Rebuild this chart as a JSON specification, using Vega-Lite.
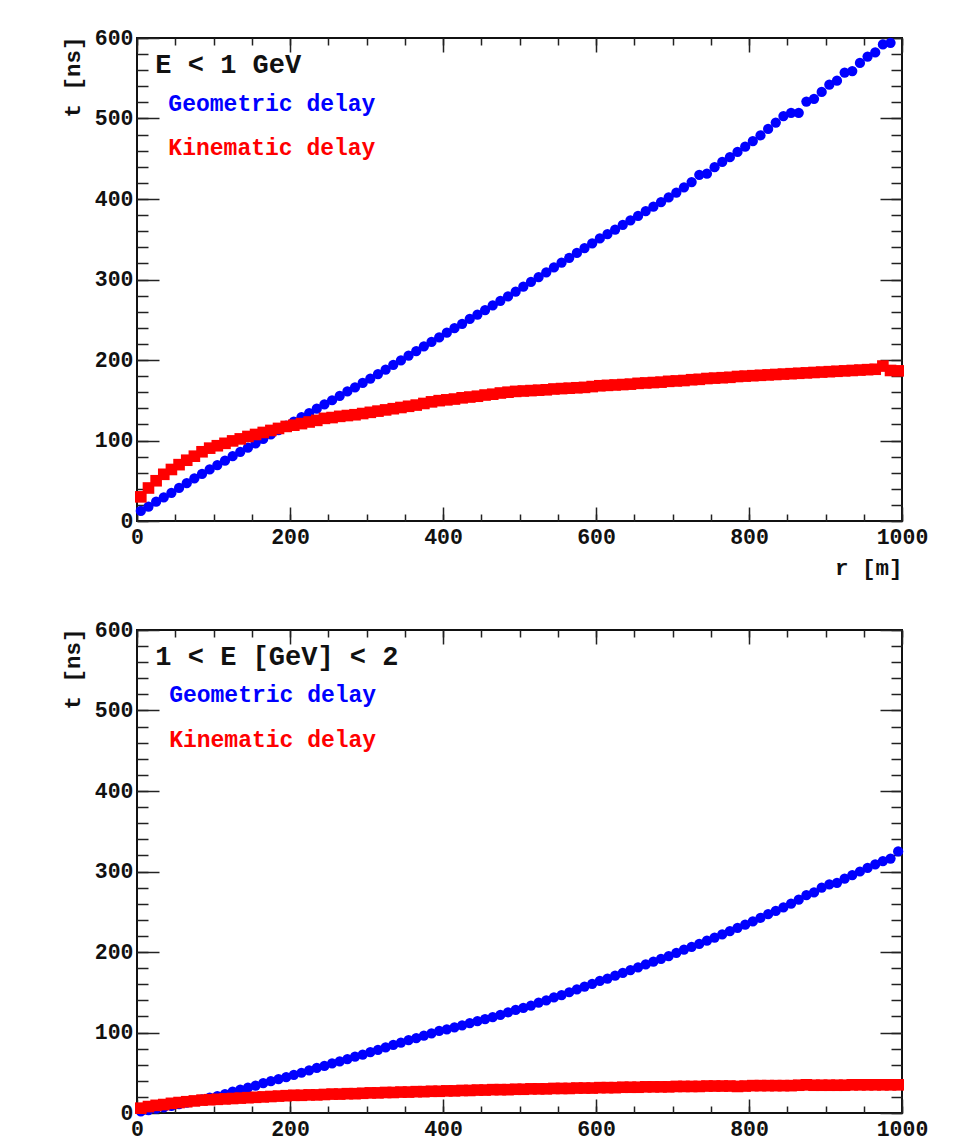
{
  "$schema": "https://vega.github.io/schema/vega-lite/v6.json",
  "background": "white",
  "padding": {"left": 60, "top": 26, "right": 10, "bottom": 5},
  "spacing": 109,
  "bounds": "flush",
  "config": {
    "view": {"stroke": "#111111", "strokeWidth": 2, "fill": "white"},
    "axis": {"domain": false, "grid": false, "labelFont": "Liberation Mono", "labelFontWeight": "bold", "labelFontSize": 21.5, "labelColor": "#111111", "titleFont": "Liberation Mono", "titleFontWeight": "bold", "titleFontSize": 22.5, "titleColor": "#111111", "tickColor": "#222222", "tickWidth": 1.5, "labelFlush": false, "labelOverlap": false, "format": "d"},
    "text": {"font": "Liberation Mono"}
  },
  "datasets": {
    "one": [{"k": 1}],
    "g1": [{"r":5,"t":12.5},{"r":15,"t":18},{"r":25,"t":24},{"r":35,"t":29.5},{"r":45,"t":35},{"r":55,"t":41},{"r":65,"t":47},{"r":75,"t":53},{"r":85,"t":58.5},{"r":95,"t":64},
      {"r":105,"t":69.5},{"r":115,"t":75},{"r":125,"t":80.5},{"r":135,"t":86},{"r":145,"t":91},{"r":155,"t":96.5},{"r":165,"t":102},{"r":175,"t":107.5},{"r":185,"t":113},{"r":195,"t":118.5},
      {"r":205,"t":123.5},{"r":215,"t":129},{"r":225,"t":134},{"r":235,"t":139.5},{"r":245,"t":145},{"r":255,"t":150},{"r":265,"t":155.5},{"r":275,"t":161},{"r":285,"t":166},{"r":295,"t":171.5},
      {"r":305,"t":177},{"r":315,"t":182.5},{"r":325,"t":188},{"r":335,"t":194},{"r":345,"t":199.5},{"r":355,"t":205.5},{"r":365,"t":211},{"r":375,"t":217},{"r":385,"t":222.5},{"r":395,"t":228},
      {"r":405,"t":234},{"r":415,"t":239.5},{"r":425,"t":245},{"r":435,"t":251},{"r":445,"t":256.5},{"r":455,"t":262},{"r":465,"t":268},{"r":475,"t":273.5},{"r":485,"t":279},{"r":495,"t":285},
      {"r":505,"t":291},{"r":515,"t":297},{"r":525,"t":303},{"r":535,"t":309},{"r":545,"t":315},{"r":555,"t":321},{"r":565,"t":327},{"r":575,"t":333},{"r":585,"t":339},{"r":595,"t":345},
      {"r":605,"t":351},{"r":615,"t":356.5},{"r":625,"t":362},{"r":635,"t":368},{"r":645,"t":373.5},{"r":655,"t":379},{"r":665,"t":385},{"r":675,"t":390.5},{"r":685,"t":396},{"r":695,"t":402},
      {"r":705,"t":408},{"r":715,"t":414.5},{"r":725,"t":421},{"r":735,"t":430},{"r":745,"t":431.5},{"r":755,"t":439.5},{"r":765,"t":446},{"r":775,"t":452},{"r":785,"t":458.5},{"r":795,"t":465},
      {"r":805,"t":472},{"r":815,"t":479},{"r":825,"t":487},{"r":835,"t":495},{"r":845,"t":503},{"r":855,"t":507},{"r":865,"t":507},{"r":875,"t":521},{"r":885,"t":524.5},{"r":895,"t":533},
      {"r":905,"t":542},{"r":915,"t":547},{"r":925,"t":557},{"r":935,"t":559},{"r":945,"t":569},{"r":955,"t":577},{"r":965,"t":582},{"r":975,"t":592},{"r":985,"t":594}],
    "k1": [{"r":5,"t":30},{"r":15,"t":41},{"r":25,"t":50},{"r":35,"t":58},{"r":45,"t":64},{"r":55,"t":70},{"r":65,"t":75.5},{"r":75,"t":80.5},{"r":85,"t":86},{"r":95,"t":90.5},
      {"r":105,"t":93.5},{"r":115,"t":96.5},{"r":125,"t":99.5},{"r":135,"t":102},{"r":145,"t":105},{"r":155,"t":107.5},{"r":165,"t":110},{"r":175,"t":112.5},{"r":185,"t":115},{"r":195,"t":117.5},
      {"r":205,"t":119},{"r":215,"t":121},{"r":225,"t":123},{"r":235,"t":125},{"r":245,"t":127.5},{"r":255,"t":128.5},{"r":265,"t":130},{"r":275,"t":131},{"r":285,"t":132},{"r":295,"t":133.5},
      {"r":305,"t":135},{"r":315,"t":136.5},{"r":325,"t":138},{"r":335,"t":139.5},{"r":345,"t":141},{"r":355,"t":142.5},{"r":365,"t":144},{"r":375,"t":146},{"r":385,"t":148},{"r":395,"t":149.5},
      {"r":405,"t":150.5},{"r":415,"t":151.5},{"r":425,"t":153},{"r":435,"t":154},{"r":445,"t":155},{"r":455,"t":156.5},{"r":465,"t":157.5},{"r":475,"t":159},{"r":485,"t":160},{"r":495,"t":161},
      {"r":505,"t":161.5},{"r":515,"t":162},{"r":525,"t":162.5},{"r":535,"t":163},{"r":545,"t":164},{"r":555,"t":164.5},{"r":565,"t":165},{"r":575,"t":165.5},{"r":585,"t":166},{"r":595,"t":167},
      {"r":605,"t":168},{"r":615,"t":168.5},{"r":625,"t":169},{"r":635,"t":169.5},{"r":645,"t":170},{"r":655,"t":171},{"r":665,"t":171.5},{"r":675,"t":172},{"r":685,"t":172.5},{"r":695,"t":173.5},
      {"r":705,"t":174},{"r":715,"t":174.5},{"r":725,"t":175.5},{"r":735,"t":176},{"r":745,"t":177},{"r":755,"t":177.5},{"r":765,"t":178},{"r":775,"t":178.5},{"r":785,"t":179.5},{"r":795,"t":180},
      {"r":805,"t":180.5},{"r":815,"t":181},{"r":825,"t":181.5},{"r":835,"t":182},{"r":845,"t":182.5},{"r":855,"t":183},{"r":865,"t":183.5},{"r":875,"t":184},{"r":885,"t":184.5},{"r":895,"t":185},
      {"r":905,"t":185.5},{"r":915,"t":186},{"r":925,"t":186.5},{"r":935,"t":187},{"r":945,"t":187.5},{"r":955,"t":188},{"r":965,"t":188.5},{"r":975,"t":192.5},{"r":985,"t":187},{"r":995,"t":186.5}],
    "g2": [{"r":5,"t":2},{"r":15,"t":3.5},{"r":25,"t":5.5},{"r":35,"t":7},{"r":45,"t":9},{"r":55,"t":11},{"r":65,"t":13},{"r":75,"t":15},{"r":85,"t":17},{"r":95,"t":19},
      {"r":105,"t":21},{"r":115,"t":23.5},{"r":125,"t":26.5},{"r":135,"t":29},{"r":145,"t":31.5},{"r":155,"t":34},{"r":165,"t":37},{"r":175,"t":39.5},{"r":185,"t":42},{"r":195,"t":44.5},
      {"r":205,"t":47.5},{"r":215,"t":50},{"r":225,"t":53},{"r":235,"t":56},{"r":245,"t":58.5},{"r":255,"t":61.5},{"r":265,"t":64},{"r":275,"t":67},{"r":285,"t":70},{"r":295,"t":72.5},
      {"r":305,"t":75.5},{"r":315,"t":78.5},{"r":325,"t":81.5},{"r":335,"t":84.5},{"r":345,"t":87.5},{"r":355,"t":90.5},{"r":365,"t":93},{"r":375,"t":96},{"r":385,"t":99},{"r":395,"t":102},
      {"r":405,"t":104},{"r":415,"t":106.5},{"r":425,"t":109},{"r":435,"t":111.5},{"r":445,"t":114},{"r":455,"t":116.5},{"r":465,"t":119},{"r":475,"t":122},{"r":485,"t":125},{"r":495,"t":128},
      {"r":505,"t":130.5},{"r":515,"t":133.5},{"r":525,"t":137},{"r":535,"t":140},{"r":545,"t":143.5},{"r":555,"t":146.5},{"r":565,"t":150},{"r":575,"t":153.5},{"r":585,"t":157},{"r":595,"t":160.5},
      {"r":605,"t":164},{"r":615,"t":167},{"r":625,"t":170.5},{"r":635,"t":174},{"r":645,"t":177.5},{"r":655,"t":181},{"r":665,"t":184.5},{"r":675,"t":188},{"r":685,"t":191.5},{"r":695,"t":195},
      {"r":705,"t":199},{"r":715,"t":203},{"r":725,"t":206.5},{"r":735,"t":210},{"r":745,"t":214},{"r":755,"t":218},{"r":765,"t":222},{"r":775,"t":226},{"r":785,"t":230},{"r":795,"t":234},
      {"r":805,"t":238},{"r":815,"t":242.5},{"r":825,"t":247},{"r":835,"t":251},{"r":845,"t":255.5},{"r":855,"t":260},{"r":865,"t":265},{"r":875,"t":270.5},{"r":885,"t":274},{"r":895,"t":280},
      {"r":905,"t":284},{"r":915,"t":286},{"r":925,"t":291},{"r":935,"t":295.5},{"r":945,"t":300},{"r":955,"t":304.5},{"r":965,"t":309},{"r":975,"t":313},{"r":985,"t":316},{"r":995,"t":325}],
    "k2": [{"r":5,"t":6},{"r":15,"t":8},{"r":25,"t":9.5},{"r":35,"t":10.5},{"r":45,"t":12},{"r":55,"t":13},{"r":65,"t":14},{"r":75,"t":15},{"r":85,"t":16},{"r":95,"t":16.5},
      {"r":105,"t":17},{"r":115,"t":17.5},{"r":125,"t":18},{"r":135,"t":18.5},{"r":145,"t":19},{"r":155,"t":19.5},{"r":165,"t":20},{"r":175,"t":20.5},{"r":185,"t":21},{"r":195,"t":21.5},
      {"r":205,"t":22},{"r":215,"t":22},{"r":225,"t":22.5},{"r":235,"t":22.5},{"r":245,"t":23},{"r":255,"t":23.5},{"r":265,"t":23.5},{"r":275,"t":24},{"r":285,"t":24},{"r":295,"t":24.5},
      {"r":305,"t":25},{"r":315,"t":25},{"r":325,"t":25.5},{"r":335,"t":25.5},{"r":345,"t":26},{"r":355,"t":26},{"r":365,"t":26.5},{"r":375,"t":26.5},{"r":385,"t":27},{"r":395,"t":27},
      {"r":405,"t":27.5},{"r":415,"t":27.5},{"r":425,"t":28},{"r":435,"t":28},{"r":445,"t":28.5},{"r":455,"t":28.5},{"r":465,"t":29},{"r":475,"t":29},{"r":485,"t":29},{"r":495,"t":29.5},
      {"r":505,"t":29.5},{"r":515,"t":30},{"r":525,"t":30},{"r":535,"t":30},{"r":545,"t":30.5},{"r":555,"t":30.5},{"r":565,"t":30.5},{"r":575,"t":31},{"r":585,"t":31},{"r":595,"t":31},
      {"r":605,"t":31.5},{"r":615,"t":31.5},{"r":625,"t":31.5},{"r":635,"t":32},{"r":645,"t":32},{"r":655,"t":32},{"r":665,"t":32.5},{"r":675,"t":32.5},{"r":685,"t":32.5},{"r":695,"t":32.5},
      {"r":705,"t":33},{"r":715,"t":33},{"r":725,"t":33},{"r":735,"t":33},{"r":745,"t":33.5},{"r":755,"t":33.5},{"r":765,"t":33.5},{"r":775,"t":33.5},{"r":785,"t":33},{"r":795,"t":33.5},
      {"r":805,"t":34},{"r":815,"t":34},{"r":825,"t":34},{"r":835,"t":34},{"r":845,"t":34},{"r":855,"t":34},{"r":865,"t":34.5},{"r":875,"t":35},{"r":885,"t":34.5},{"r":895,"t":34.5},
      {"r":905,"t":34.5},{"r":915,"t":34.5},{"r":925,"t":34.5},{"r":935,"t":35},{"r":945,"t":35},{"r":955,"t":35},{"r":965,"t":35},{"r":975,"t":35},{"r":985,"t":35},{"r":995,"t":35}]
  },
  "vconcat": [
    {
      "width": 765, "height": 483,
      "resolve": {"axis": {"x": "independent", "y": "independent"}},
      "layer": [
        {
          "data": {"name": "g1"},
          "mark": {"type": "circle", "size": 105, "opacity": 1, "color": "#0000ff"},
          "encoding": {
            "x": {"field": "r", "type": "quantitative", "scale": {"domain": [0, 1000], "nice": false}, "axis": {"orient": "bottom", "values": [0, 200, 400, 600, 800, 1000], "ticks": false, "labelPadding": 5, "title": "r [m]", "titleX": 765, "titleY": 46, "titleAlign": "right", "titleBaseline": "middle", "titleAngle": 0}},
            "y": {"field": "t", "type": "quantitative", "scale": {"domain": [0, 600], "nice": false}, "axis": {"orient": "left", "values": [0, 100, 200, 300, 400, 500, 600], "ticks": false, "labelPadding": 4, "title": "t [ns]", "titleAngle": 270, "titleX": -65, "titleY": -2, "titleAlign": "right", "titleBaseline": "middle"}}
          }
        },
        {
          "data": {"name": "k1"},
          "mark": {"type": "square", "size": 135, "opacity": 1, "color": "#ff0000"},
          "encoding": {
            "x": {"field": "r", "type": "quantitative", "scale": {"domain": [0, 1000], "nice": false}, "axis": {"orient": "bottom", "values": [0, 200, 400, 600, 800, 1000], "labels": false, "tickSize": -14, "title": null}},
            "y": {"field": "t", "type": "quantitative", "scale": {"domain": [0, 600], "nice": false}, "axis": {"orient": "left", "values": [0, 100, 200, 300, 400, 500, 600], "labels": false, "tickSize": -22, "title": null}}
          }
        },
        {
          "data": {"name": "one"},
          "mark": {"type": "text", "align": "left", "baseline": "alphabetic", "fontSize": 27, "fontWeight": "bold", "color": "#111111", "text": "E < 1 GeV"},
          "encoding": {
            "x": {"datum": 24, "type": "quantitative", "scale": {"domain": [0, 1000], "nice": false}, "axis": {"orient": "bottom", "values": [0,50,100,150,200,250,300,350,400,450,500,550,600,650,700,750,800,850,900,950,1000], "labels": false, "tickSize": -7, "title": null}},
            "y": {"datum": 556, "type": "quantitative", "scale": {"domain": [0, 600], "nice": false}, "axis": {"orient": "left", "values": [0,20,40,60,80,100,120,140,160,180,200,220,240,260,280,300,320,340,360,380,400,420,440,460,480,500,520,540,560,580,600], "labels": false, "tickSize": -11, "title": null}}
          }
        },
        {
          "data": {"name": "one"},
          "mark": {"type": "text", "align": "left", "baseline": "alphabetic", "fontSize": 23, "fontWeight": "bold", "color": "#0000ff", "text": "Geometric delay"},
          "encoding": {
            "x": {"datum": 41, "type": "quantitative", "scale": {"domain": [0, 1000], "nice": false}, "axis": {"orient": "top", "values": [0, 200, 400, 600, 800, 1000], "labels": false, "tickSize": -14, "title": null}},
            "y": {"datum": 509.5, "type": "quantitative", "scale": {"domain": [0, 600], "nice": false}, "axis": {"orient": "right", "values": [0, 100, 200, 300, 400, 500, 600], "labels": false, "tickSize": -22, "title": null}}
          }
        },
        {
          "data": {"name": "one"},
          "mark": {"type": "text", "align": "left", "baseline": "alphabetic", "fontSize": 23, "fontWeight": "bold", "color": "#ff0000", "text": "Kinematic delay"},
          "encoding": {
            "x": {"datum": 41, "type": "quantitative", "scale": {"domain": [0, 1000], "nice": false}, "axis": {"orient": "top", "values": [0,50,100,150,200,250,300,350,400,450,500,550,600,650,700,750,800,850,900,950,1000], "labels": false, "tickSize": -7, "title": null}},
            "y": {"datum": 454.5, "type": "quantitative", "scale": {"domain": [0, 600], "nice": false}, "axis": {"orient": "right", "values": [0,20,40,60,80,100,120,140,160,180,200,220,240,260,280,300,320,340,360,380,400,420,440,460,480,500,520,540,560,580,600], "labels": false, "tickSize": -11, "title": null}}
          }
        }
      ]
    },
    {
      "width": 765, "height": 483,
      "resolve": {"axis": {"x": "independent", "y": "independent"}},
      "layer": [
        {
          "data": {"name": "g2"},
          "mark": {"type": "circle", "size": 105, "opacity": 1, "color": "#0000ff"},
          "encoding": {
            "x": {"field": "r", "type": "quantitative", "scale": {"domain": [0, 1000], "nice": false}, "axis": {"orient": "bottom", "values": [0, 200, 400, 600, 800, 1000], "ticks": false, "labelPadding": 5, "title": null}},
            "y": {"field": "t", "type": "quantitative", "scale": {"domain": [0, 600], "nice": false}, "axis": {"orient": "left", "values": [0, 100, 200, 300, 400, 500, 600], "ticks": false, "labelPadding": 4, "title": "t [ns]", "titleAngle": 270, "titleX": -65, "titleY": -2, "titleAlign": "right", "titleBaseline": "middle"}}
          }
        },
        {
          "data": {"name": "k2"},
          "mark": {"type": "square", "size": 135, "opacity": 1, "color": "#ff0000"},
          "encoding": {
            "x": {"field": "r", "type": "quantitative", "scale": {"domain": [0, 1000], "nice": false}, "axis": {"orient": "bottom", "values": [0, 200, 400, 600, 800, 1000], "labels": false, "tickSize": -14, "title": null}},
            "y": {"field": "t", "type": "quantitative", "scale": {"domain": [0, 600], "nice": false}, "axis": {"orient": "left", "values": [0, 100, 200, 300, 400, 500, 600], "labels": false, "tickSize": -22, "title": null}}
          }
        },
        {
          "data": {"name": "one"},
          "mark": {"type": "text", "align": "left", "baseline": "alphabetic", "fontSize": 27, "fontWeight": "bold", "color": "#111111", "text": "1 < E [GeV] < 2"},
          "encoding": {
            "x": {"datum": 24, "type": "quantitative", "scale": {"domain": [0, 1000], "nice": false}, "axis": {"orient": "bottom", "values": [0,50,100,150,200,250,300,350,400,450,500,550,600,650,700,750,800,850,900,950,1000], "labels": false, "tickSize": -7, "title": null}},
            "y": {"datum": 557, "type": "quantitative", "scale": {"domain": [0, 600], "nice": false}, "axis": {"orient": "left", "values": [0,20,40,60,80,100,120,140,160,180,200,220,240,260,280,300,320,340,360,380,400,420,440,460,480,500,520,540,560,580,600], "labels": false, "tickSize": -11, "title": null}}
          }
        },
        {
          "data": {"name": "one"},
          "mark": {"type": "text", "align": "left", "baseline": "alphabetic", "fontSize": 23, "fontWeight": "bold", "color": "#0000ff", "text": "Geometric delay"},
          "encoding": {
            "x": {"datum": 42, "type": "quantitative", "scale": {"domain": [0, 1000], "nice": false}, "axis": {"orient": "top", "values": [0, 200, 400, 600, 800, 1000], "labels": false, "tickSize": -14, "title": null}},
            "y": {"datum": 510, "type": "quantitative", "scale": {"domain": [0, 600], "nice": false}, "axis": {"orient": "right", "values": [0, 100, 200, 300, 400, 500, 600], "labels": false, "tickSize": -22, "title": null}}
          }
        },
        {
          "data": {"name": "one"},
          "mark": {"type": "text", "align": "left", "baseline": "alphabetic", "fontSize": 23, "fontWeight": "bold", "color": "#ff0000", "text": "Kinematic delay"},
          "encoding": {
            "x": {"datum": 42, "type": "quantitative", "scale": {"domain": [0, 1000], "nice": false}, "axis": {"orient": "top", "values": [0,50,100,150,200,250,300,350,400,450,500,550,600,650,700,750,800,850,900,950,1000], "labels": false, "tickSize": -7, "title": null}},
            "y": {"datum": 454.5, "type": "quantitative", "scale": {"domain": [0, 600], "nice": false}, "axis": {"orient": "right", "values": [0,20,40,60,80,100,120,140,160,180,200,220,240,260,280,300,320,340,360,380,400,420,440,460,480,500,520,540,560,580,600], "labels": false, "tickSize": -11, "title": null}}
          }
        }
      ]
    }
  ]
}
